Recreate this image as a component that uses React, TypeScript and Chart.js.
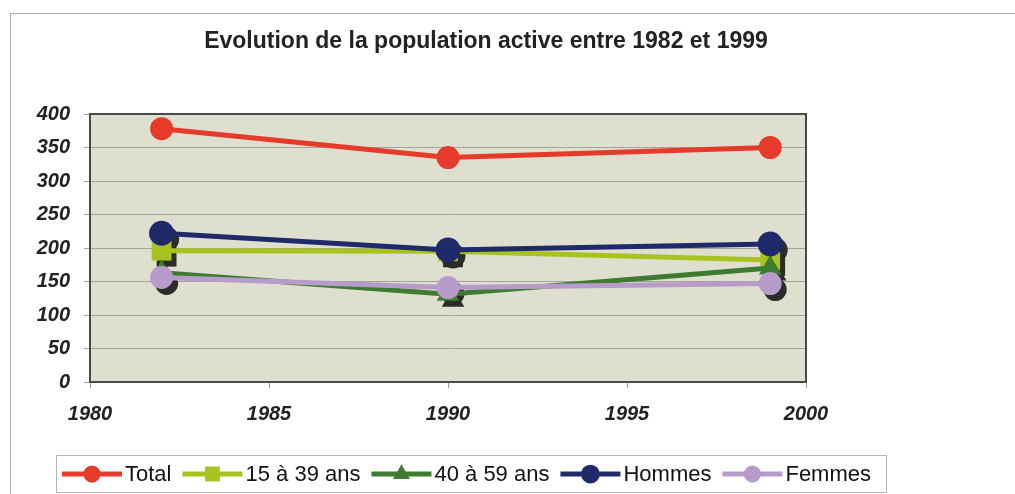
import React, { useEffect, useRef } from "react";
import { Chart, registerables } from "chart.js";
import { drawPoint } from "chart.js/helpers";

Chart.register(...registerables);

const TITLE = "Evolution de la population active entre 1982 et 1999";
const years = [1982, 1990, 1999];
const seriesNames = ["Total", "15 à 39 ans", "40 à 59 ans", "Hommes", "Femmes"];
const total = [378, 335, 350];
const age15to39 = [196, 195, 182];
const age40to59 = [163, 131, 170];
const hommes = [222, 197, 206];
const femmes = [156, 141, 147];
const xTicks = [1980, 1985, 1990, 1995, 2000];
const yTicks = [0, 50, 100, 150, 200, 250, 300, 350, 400];

const colors = ["#e63a2a", "#a9c21f", "#3e7d31", "#1f2a6a", "#b79bcb"];
const styles = ["circle", "rect", "triangle", "circle", "circle"];
const radii = [11.5, 14, 13, 12.5, 11.5];
const shadowed = [false, true, true, true, true];

const values = [total, age15to39, age40to59, hommes, femmes];

const decorPlugin = {
  id: "decor",
  beforeDraw(chart: any) {
    const { ctx, chartArea: a, width, height } = chart;
    ctx.save();
    ctx.fillStyle = "#ffffff";
    ctx.fillRect(0, 0, width, height);
    ctx.strokeStyle = "#a8a8a8";
    ctx.lineWidth = 1;
    ctx.strokeRect(10.5, 13.5, width + 20, height + 20);
    ctx.fillStyle = "#dfdfcf";
    ctx.fillRect(a.left, a.top, a.right - a.left, a.bottom - a.top);
    ctx.restore();
  },
  beforeDatasetsDraw(chart: any) {
    const { ctx, chartArea: a } = chart;
    ctx.save();
    ctx.strokeStyle = "#4a4a4a";
    ctx.lineWidth = 2;
    ctx.strokeRect(a.left, a.top, a.right - a.left, a.bottom - a.top);
    ctx.fillStyle = "#2b2b2b";
    chart.data.datasets.forEach((ds: any, i: number) => {
      if (!shadowed[i]) return;
      const meta = chart.getDatasetMeta(i);
      meta.data.forEach((el: any) => {
        drawPoint(
          ctx,
          { pointStyle: styles[i], radius: radii[i], rotation: 0, borderWidth: 0 } as any,
          el.x + 5,
          el.y + 6
        );
      });
    });
    ctx.restore();
  },
  afterDraw(chart: any) {
    const { ctx } = chart;
    ctx.save();
    // title
    ctx.fillStyle = "#222";
    ctx.font = "bold 23px Arial, 'Liberation Sans', sans-serif";
    ctx.textAlign = "center";
    ctx.textBaseline = "alphabetic";
    ctx.fillText(TITLE, 486, 48);

    // legend
    const boxL = 56, boxT = 455, boxR = 886, boxB = 492;
    ctx.fillStyle = "#ffffff";
    ctx.fillRect(boxL, boxT, boxR - boxL, boxB - boxT);
    ctx.strokeStyle = "#b5b5b5";
    ctx.lineWidth = 1;
    ctx.strokeRect(boxL + 0.5, boxT + 0.5, boxR - boxL, boxB - boxT);
    ctx.font = "22px Arial, 'Liberation Sans', sans-serif";
    ctx.textAlign = "left";
    ctx.textBaseline = "middle";
    let x = 62;
    const y = 474;
    chart.data.datasets.forEach((ds: any, i: number) => {
      ctx.strokeStyle = colors[i];
      ctx.lineWidth = 5;
      ctx.beginPath();
      ctx.moveTo(x, y);
      ctx.lineTo(x + 60, y);
      ctx.stroke();
      ctx.fillStyle = colors[i];
      drawPoint(
        ctx,
        { pointStyle: styles[i], radius: radii[i] * 0.75, rotation: 0, borderWidth: 0 } as any,
        x + 30,
        y
      );
      ctx.fillStyle = "#111";
      ctx.fillText(ds.label, x + 63, y + 1);
      x += 63 + ctx.measureText(ds.label).width + 11;
    });
    ctx.restore();
  },
};

export default function App() {
  const ref = useRef<HTMLCanvasElement>(null);
  useEffect(() => {
    const canvas = ref.current!;
    const chart = new Chart(canvas, {
      type: "line",
      data: {
        datasets: seriesNames.map((name, i) => ({
          label: name,
          data: years.map((yr, j) => ({ x: yr, y: values[i][j] })),
          borderColor: colors[i],
          backgroundColor: colors[i],
          borderWidth: 5,
          pointStyle: styles[i] as any,
          pointRadius: radii[i],
          pointBorderWidth: 0,
          pointBackgroundColor: colors[i],
          tension: 0,
          order: seriesNames.length - i,
          clip: false as any,
        })),
      },
      options: {
        responsive: false,
        animation: false,
        events: [],
        layout: { padding: { top: 114, right: 209, left: 0, bottom: 0 } },
        plugins: {
          legend: { display: false },
          title: { display: false },
          tooltip: { enabled: false },
        },
        scales: {
          x: {
            type: "linear",
            min: 1980,
            max: 2000,
            afterFit(scale: any) {
              scale.height = 112;
            },
            afterBuildTicks(scale: any) {
              scale.ticks = xTicks.map((v) => ({ value: v }));
            },
            ticks: {
              color: "#222",
              font: { family: "Arial, 'Liberation Sans', sans-serif", size: 20, weight: "bold", style: "italic" },
              padding: 14,
              maxRotation: 0,
              callback: (v: any) => String(v),
            },
            grid: {
              drawOnChartArea: false,
              drawTicks: true,
              tickLength: 6,
              color: "#9a9a9a",
            },
            border: { display: true, color: "#4a4a4a", width: 2 },
          },
          y: {
            type: "linear",
            min: 0,
            max: 400,
            afterFit(scale: any) {
              scale.width = 90;
            },
            afterBuildTicks(scale: any) {
              scale.ticks = yTicks.map((v) => ({ value: v }));
            },
            ticks: {
              color: "#222",
              font: { family: "Arial, 'Liberation Sans', sans-serif", size: 20, weight: "bold", style: "italic" },
              padding: 14,
              callback: (v: any) => String(v),
            },
            grid: {
              drawOnChartArea: true,
              drawTicks: true,
              tickLength: 6,
              color: "#a3a39a",
              lineWidth: 1,
            },
            border: { display: true, color: "#4a4a4a", width: 2 },
          },
        },
      },
      plugins: [decorPlugin],
    });
    return () => chart.destroy();
  }, []);
  return (
    <div style={{ position: "fixed", left: 0, top: 0, width: 1015, height: 494, background: "#fff" }}>
      <canvas ref={ref} width={1015} height={494} style={{ width: 1015, height: 494, display: "block" }} />
    </div>
  );
}
